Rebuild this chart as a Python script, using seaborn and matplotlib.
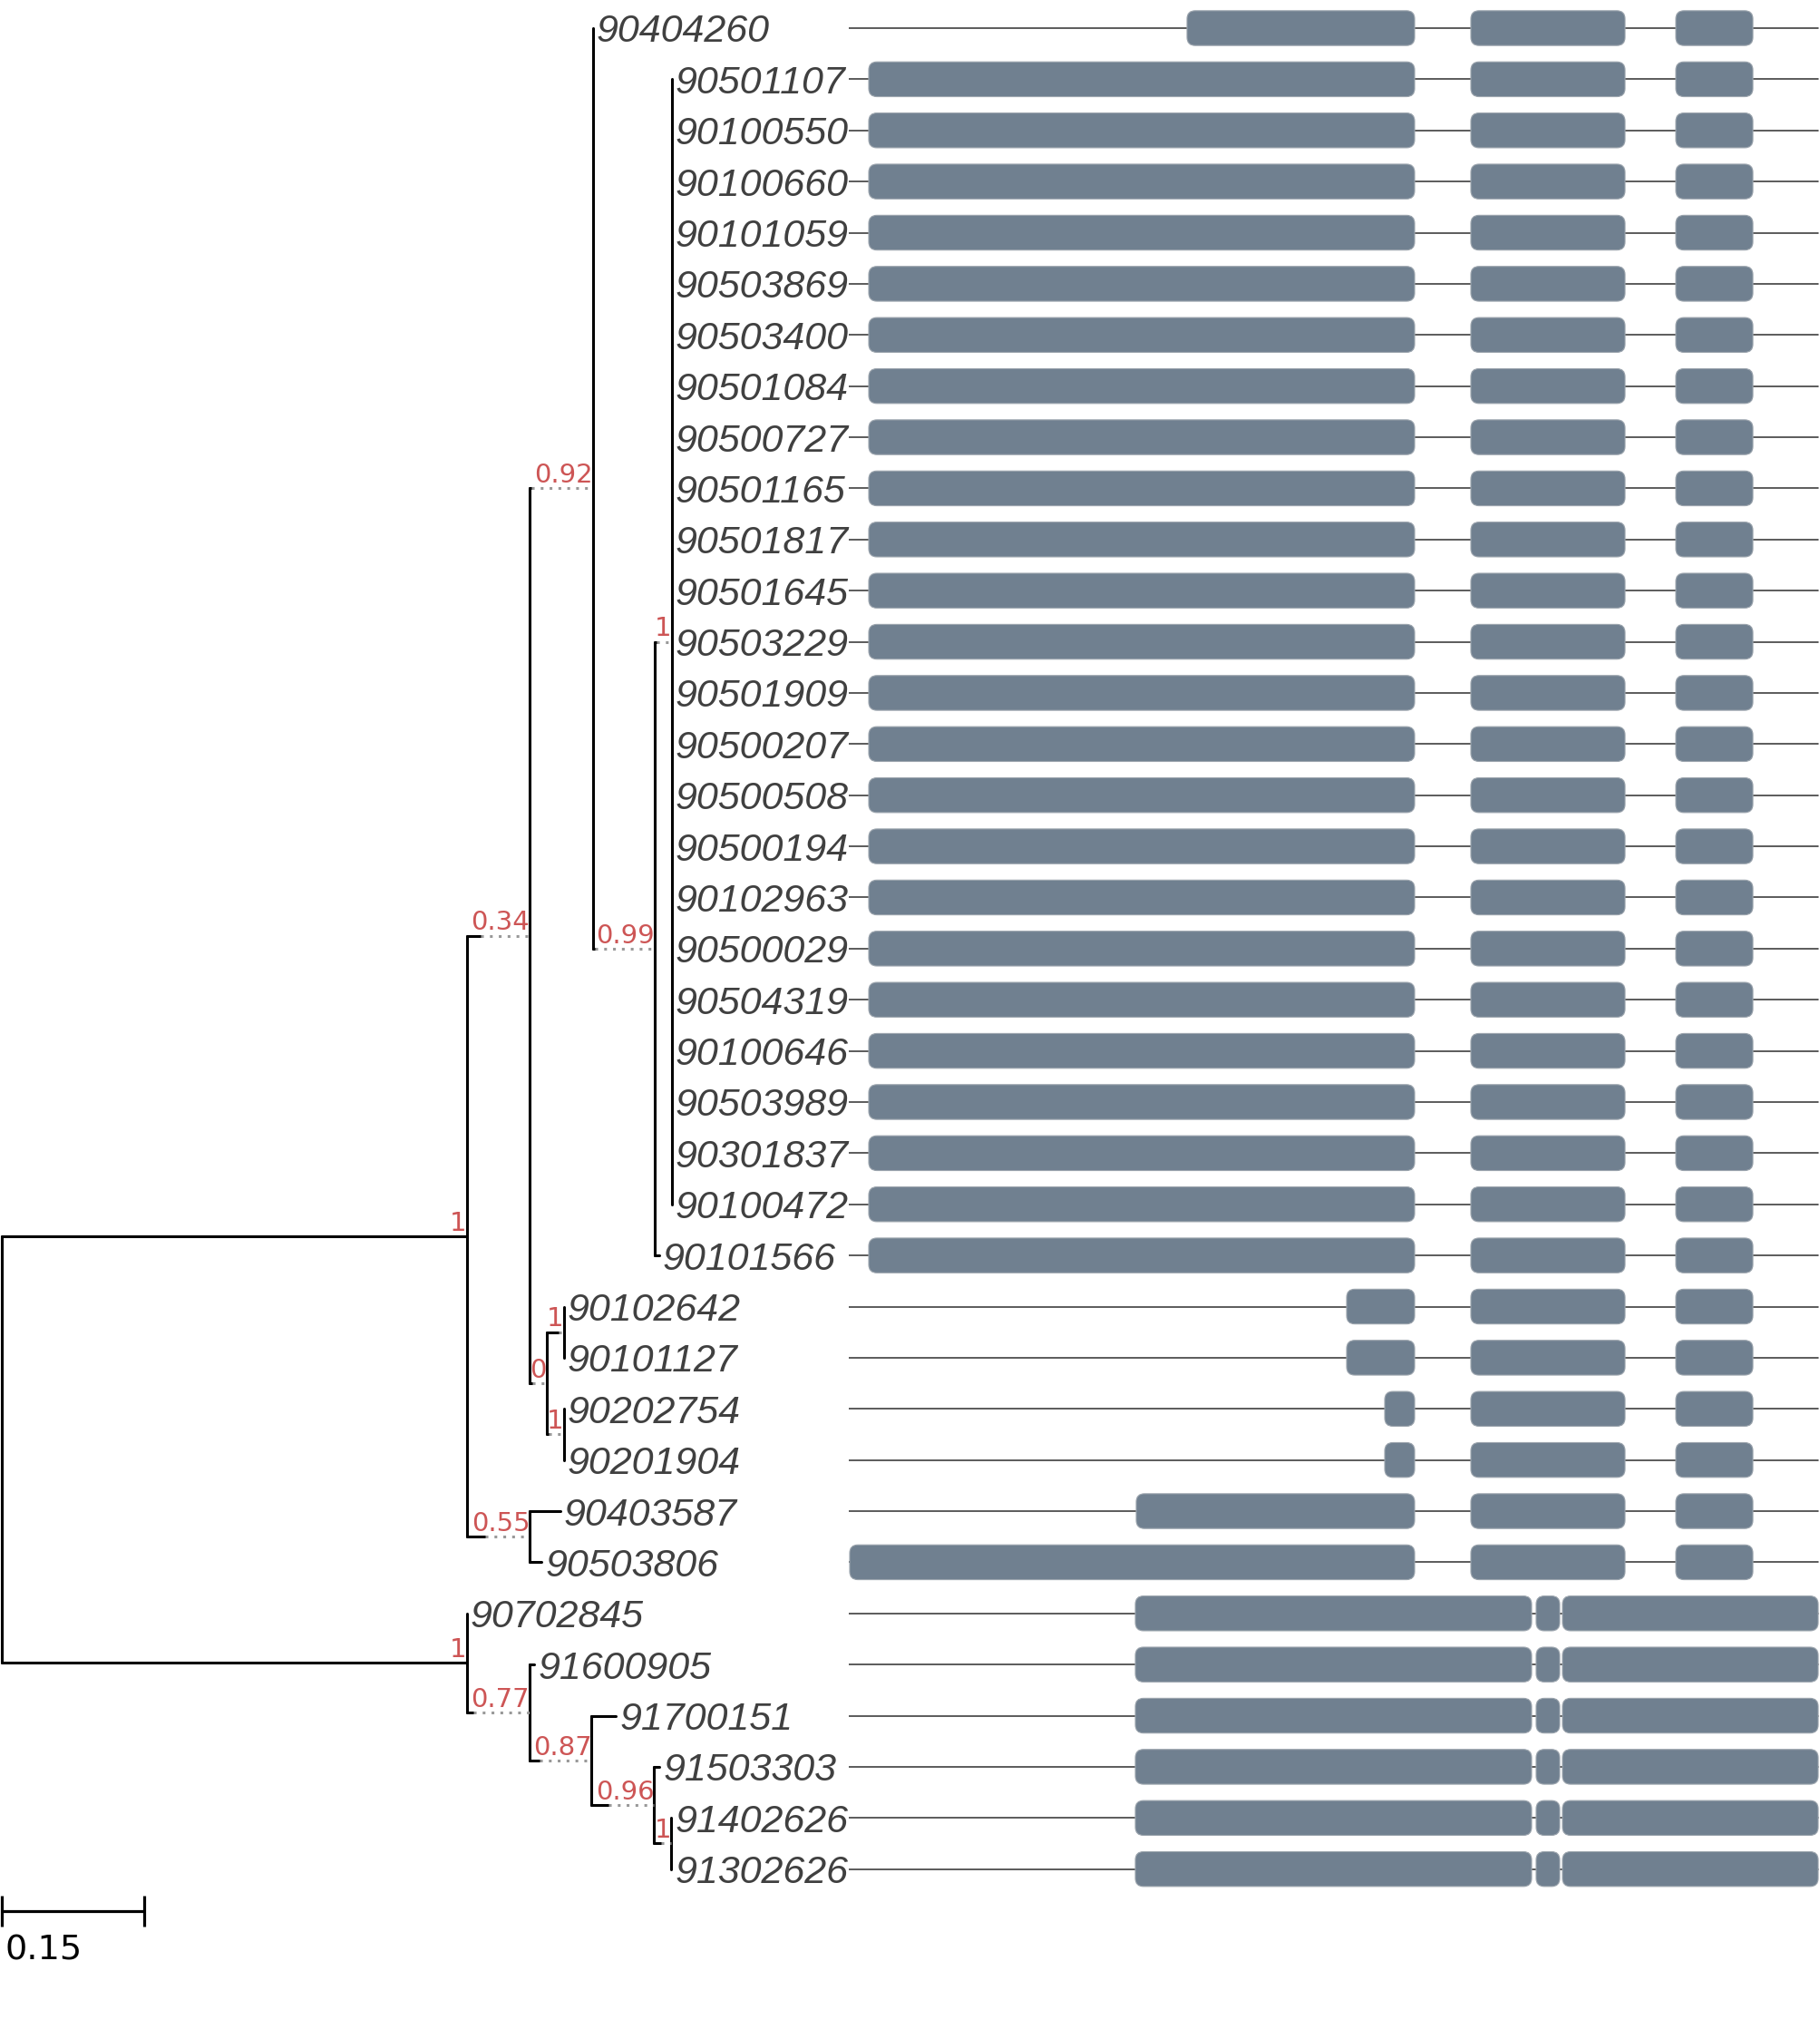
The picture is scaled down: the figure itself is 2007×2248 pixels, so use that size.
import numpy as np
import pandas as pd
import matplotlib
matplotlib.use("Agg")
import matplotlib.pyplot as plt
from matplotlib.patches import FancyBboxPatch
import seaborn as sns

# ------------------------------------------------------------------ data
tip_labels = ["90404260",
              "90501107", "90100550", "90100660", "90101059", "90503869", "90503400",
              "90501084", "90500727", "90501165", "90501817", "90501645", "90503229",
              "90501909", "90500207", "90500508", "90500194", "90102963", "90500029",
              "90504319", "90100646", "90503989", "90301837", "90100472",
              "90101566",
              "90102642", "90101127", "90202754", "90201904",
              "90403587", "90503806",
              "90702845", "91600905", "91700151", "91503303", "91402626", "91302626"]
tip_parent = (["C"] + ["E"] * 23 + ["D"] + ["F1", "F1", "F2", "F2"] + ["G", "G"]
              + ["H", "I", "J", "K", "L", "L"])
tip_branch = ([0.0] + [0.0] * 23 + [0.0048] + [0.0] * 4 + [0.0321, 0.0120]
              + [0.0, 0.0055, 0.0257, 0.0055, 0.0, 0.0])

node_names   = ["root", "A", "B", "C", "D", "E", "F", "F1", "F2", "G", "H", "I", "J", "K", "L"]
node_parent  = [None, "root", "A", "B", "C", "D", "B", "F", "F", "A", "root", "H", "I", "J", "K"]
node_branch  = [0.0, 0.491, 0.0668, 0.0663, 0.0654, 0.0182, 0.0175, 0.0184, 0.0184, 0.0668,
                0.491, 0.0660, 0.0660, 0.0660, 0.0183]
node_solid   = [0.0, 0.491, 0.0144, 0.0020, 0.0020, 0.0020, 0.0030, 0.0125, 0.0020, 0.0200,
                0.491, 0.0074, 0.0110, 0.0180, 0.0074]
node_support = [None, "1", "0.34", "0.92", "0.99", "1", "0", "1", "1", "0.55",
                "1", "0.77", "0.87", "0.96", "1"]

scale_bar_length = 0.15

# gene structures (positions along the gene, arbitrary units)
gene_length = 1069
gene_type = ["g1"] + ["g2"] * 24 + ["g3"] * 2 + ["g4"] * 2 + ["g5", "g6"] + ["g7"] * 6
exon_starts = {"g1": [373, 686, 912], "g2": [22, 686, 912], "g3": [549, 686, 912],
               "g4": [591, 686, 912], "g5": [317, 686, 912], "g6": [1, 686, 912],
               "g7": [316, 758, 787]}
exon_ends = {"g1": [624, 856, 997], "g2": [624, 856, 997], "g3": [624, 856, 997],
             "g4": [624, 856, 997], "g5": [624, 856, 997], "g6": [624, 856, 997],
             "g7": [753, 784, 1069]}

# ------------------------------------------------------------------ layout
W, H, DPI = 2007, 2248, 100
PX_PER_UNIT = 1044.0
ROW0_PX, ROW_PX = 31.0, 56.38
SPLIT_PX = 936.0

sns.set_theme(style="white")
plt.rcParams["font.family"] = ["DejaVu Sans"]

fig = plt.figure(figsize=(W / DPI, H / DPI), dpi=DPI)
ax_t = fig.add_axes([0, 0, SPLIT_PX / W, 1])
ax_g = fig.add_axes([SPLIT_PX / W, 0, 1 - SPLIT_PX / W, 1])

ylim = ((H - ROW0_PX) / ROW_PX, -ROW0_PX / ROW_PX)

# ------------------------------------------------------------------ tree geometry
tips = pd.DataFrame({"label": tip_labels, "parent": tip_parent, "branch": tip_branch})
tips["y"] = np.arange(len(tips), dtype=float)
nodes = pd.DataFrame({"name": node_names, "parent": node_parent, "branch": node_branch,
                      "solid": node_solid, "support": node_support}).set_index("name")

nx = {}
for name in node_names:
    p = nodes.loc[name, "parent"]
    nx[name] = 0.0 if p is None else nx[p] + nodes.loc[name, "branch"]
tips["x"] = [nx[p] + b for p, b in zip(tips["parent"], tips["branch"])]

ny, yspan = {}, {}
for name in reversed(node_names):
    ys = list(tips.loc[tips["parent"] == name, "y"])
    ys += [ny[c] for c in node_names if nodes.loc[c, "parent"] == name]
    ny[name] = float(np.mean(ys))
    yspan[name] = (min(ys), max(ys))

solid_rows, dotted_rows = [], []
seg = 0
for name in node_names:
    lo, hi = yspan[name]
    solid_rows += [(seg, nx[name], lo), (seg, nx[name], hi)]
    seg += 1
for _, r in tips.iterrows():
    if r["branch"] > 0:
        solid_rows += [(seg, nx[r["parent"]], r["y"]), (seg, r["x"], r["y"])]
        seg += 1
for name in node_names[1:]:
    p = nodes.loc[name, "parent"]
    s = nodes.loc[name, "solid"]
    solid_rows += [(seg, nx[p], ny[name]), (seg, nx[p] + s, ny[name])]
    seg += 1
    if s < nodes.loc[name, "branch"]:
        dotted_rows.append((nx[p] + s, nx[name], ny[name]))

solid_df = pd.DataFrame(solid_rows, columns=["seg", "x", "y"])
sns.lineplot(data=solid_df, x="x", y="y", units="seg", estimator=None, sort=False,
             color="black", lw=2.2, ax=ax_t, legend=False)
for x0, x1, y in dotted_rows:
    ax_t.plot([x0, x1], [y, y], color="#999999", lw=2.2, linestyle=(0, (1, 2.2)),
              dash_capstyle="butt")

# support values
for name in node_names[1:]:
    ax_t.annotate(nodes.loc[name, "support"], (nx[name], ny[name]), xytext=(0, 4.5),
                  textcoords="offset points", ha="right", va="baseline",
                  color="#CD5555", fontsize=21, family="DejaVu Sans")

# tip labels
for _, r in tips.iterrows():
    ax_t.annotate(r["label"], (r["x"], r["y"]), xytext=(3, 0), textcoords="offset points",
                  ha="left", va="center_baseline", fontsize=31, style="italic",
                  family=["Liberation Sans", "DejaVu Sans"], color="#404040",
                  annotation_clip=False)

# scale bar
sb_y = (2107 - ROW0_PX) / ROW_PX
sb_tick = 17 / ROW_PX
ax_t.plot([0, scale_bar_length], [sb_y, sb_y], color="black", lw=2.3, solid_capstyle="butt")
for xx in (0, scale_bar_length):
    ax_t.plot([xx, xx], [sb_y - sb_tick, sb_y + sb_tick], color="black", lw=2.3,
              solid_capstyle="butt")
ax_t.text(0.003, sb_y + 0.45, f"{scale_bar_length:g}", ha="left", va="top",
          fontsize=27.5, color="black", family="DejaVu Sans")

ax_t.set_xlim(-2 / PX_PER_UNIT, (SPLIT_PX - 2) / PX_PER_UNIT)
ax_t.set_ylim(*ylim)
ax_t.axis("off")

# ------------------------------------------------------------------ gene structures
line_df = pd.DataFrame({"gene": np.repeat(tips["label"].values, 2),
                        "x": np.tile([0, gene_length], len(tips)),
                        "y": np.repeat(tips["y"].values, 2)})
sns.lineplot(data=line_df, x="x", y="y", units="gene", estimator=None, sort=False,
             color="#2f2f2f", lw=1.1, ax=ax_g, legend=False)

box_h = 0.68
for _, r in tips.iterrows():
    gt = gene_type[int(r["y"])]
    for s, e in zip(exon_starts[gt], exon_ends[gt]):
        ax_g.add_patch(FancyBboxPatch((s, r["y"] - box_h / 2), e - s, box_h,
                                      boxstyle="round,pad=0,rounding_size=9",
                                      mutation_aspect=1 / ROW_PX,
                                      facecolor="#708090", edgecolor="#9ba4ad",
                                      lw=0.8, zorder=3))

ax_g.set_xlim(0, W - SPLIT_PX)
ax_g.set_ylim(*ylim)
ax_g.axis("off")

fig.savefig("out.png", dpi=DPI)
